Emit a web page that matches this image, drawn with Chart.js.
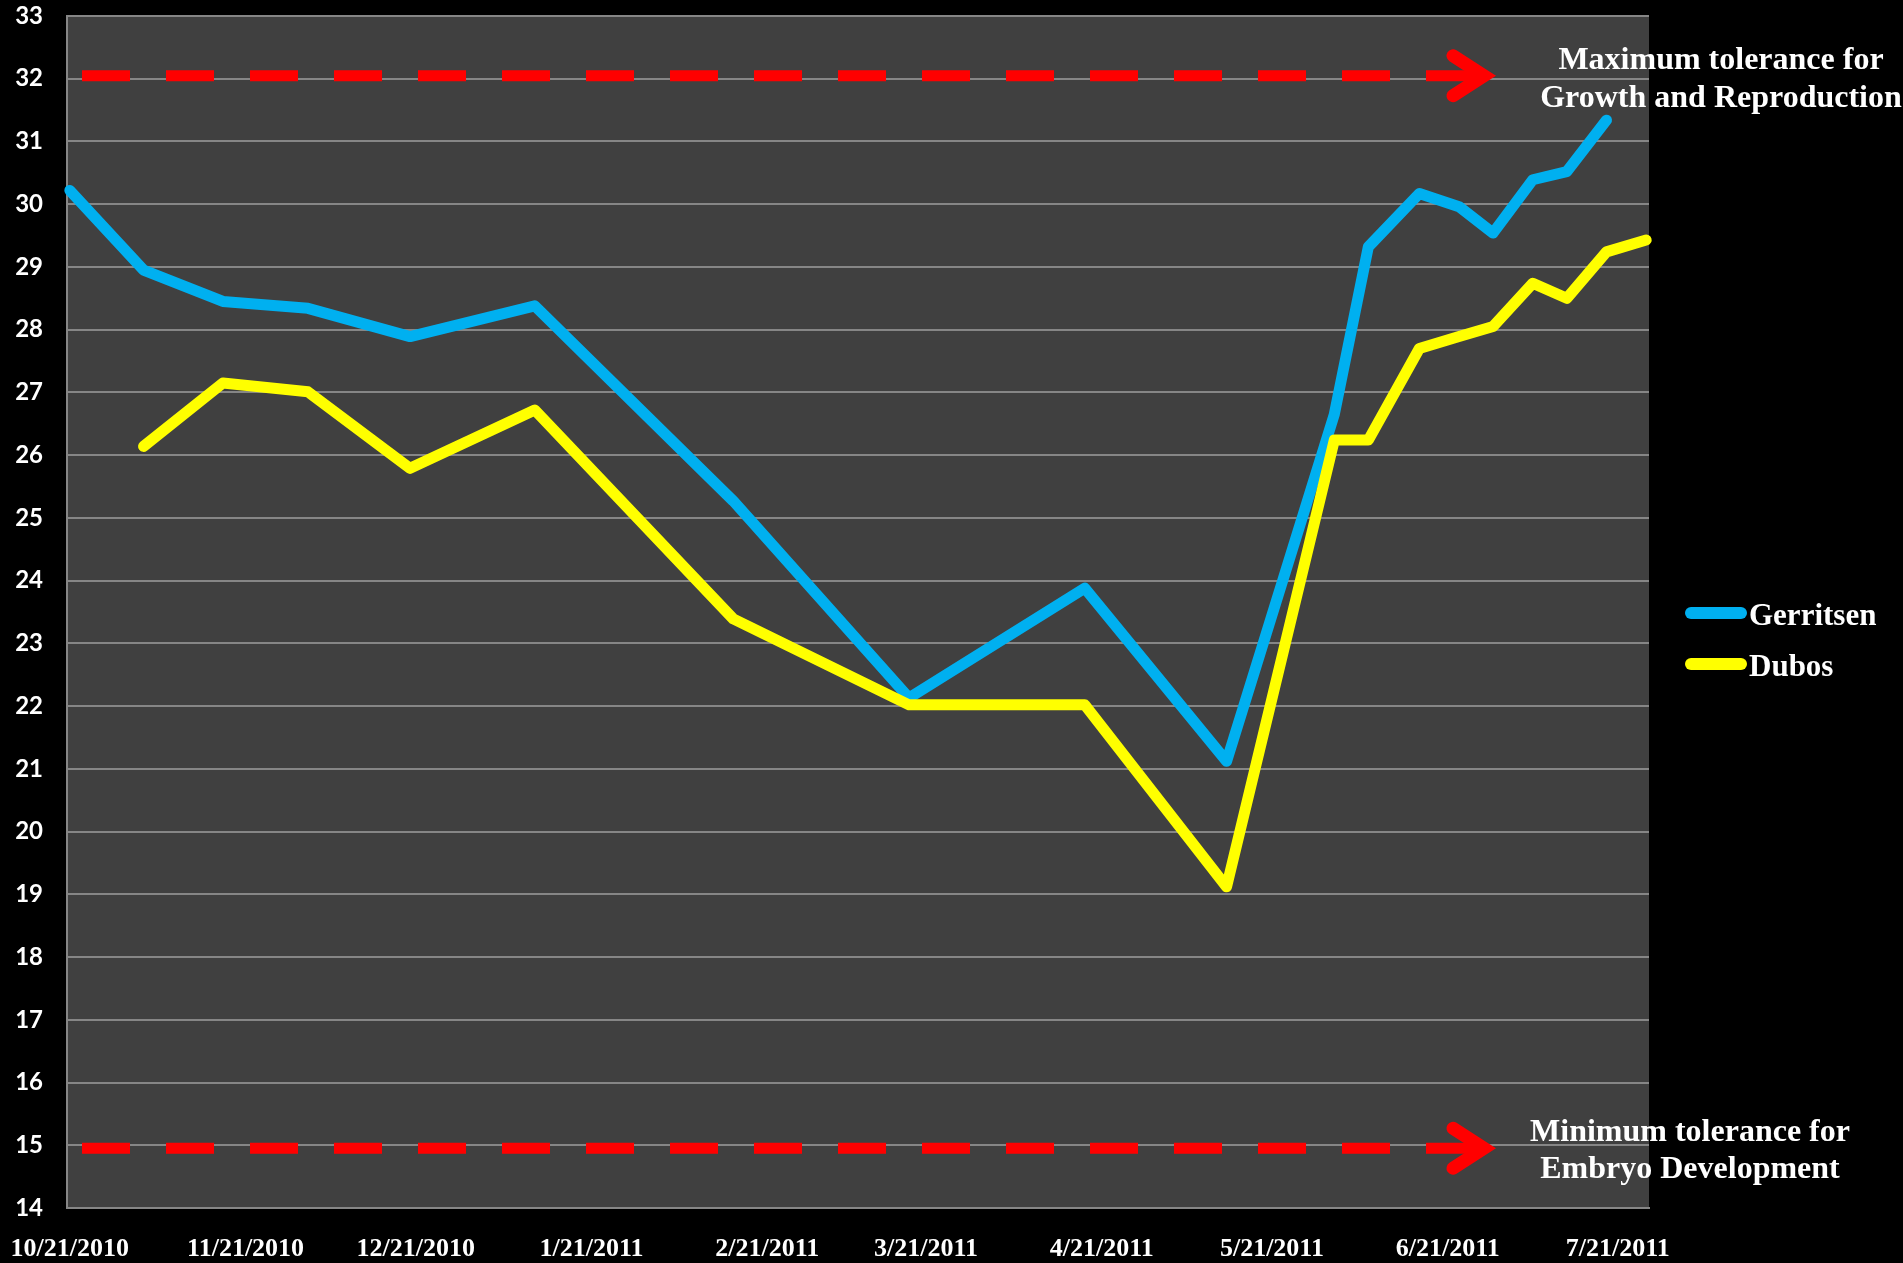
<!DOCTYPE html>
<html>
<head>
<meta charset="utf-8">
<script src="https://cdn.jsdelivr.net/npm/chart.js@4.4.1/dist/chart.umd.min.js"></script>
<style>
  html, body { margin: 0; padding: 0; background: #000; }
  #wrap { width: 1903px; height: 1263px; }
</style>
</head>
<body>
<div id="wrap"><canvas id="myChart"></canvas></div>
<script>
// sampling dates and temperatures
const dates = ['2010-10-21', '2010-11-03', '2010-11-17', '2010-12-02', '2010-12-20', '2011-01-11',
  '2011-02-15', '2011-03-18', '2011-04-18', '2011-05-13', '2011-06-01', '2011-06-07', '2011-06-16',
  '2011-06-23', '2011-06-29', '2011-07-06', '2011-07-12', '2011-07-19', '2011-07-26'];
const gerritsen = [30.22, 28.95, 28.45, 28.34, 27.89, 28.38, 25.27, 22.13, 23.88, 21.12, 26.65,
  29.32, 30.17, 29.96, 29.54, 30.39, 30.52, 31.34, null];
const dubos = [null, 26.14, 27.15, 27.01, 25.79, 26.72, 23.39, 22.02, 22.02, 19.12, 26.24,
  26.24, 27.70, 27.89, 28.05, 28.74, 28.50, 29.24, 29.43];

// x axis labels
const tickDates = ['2010-10-21', '2010-11-21', '2010-12-21', '2011-01-21', '2011-02-21',
  '2011-03-21', '2011-04-21', '2011-05-21', '2011-06-21', '2011-07-21'];

const yMin = 14;
const yMax = 33;
const maxTolerance = 32;
const minTolerance = 15;
const maxText = ['Maximum tolerance for', 'Growth and Reproduction'];
const minText = ['Minimum tolerance for', 'Embryo Development'];

const start = Date.parse(dates[0]);
function toDay(d) {
  return (Date.parse(d) - start) / 86400000;
}
function dayLabel(v) {
  const d = new Date(start + v * 86400000);
  return (d.getUTCMonth() + 1) + '/' + d.getUTCDate() + '/' + d.getUTCFullYear();
}
function toPoints(values) {
  return dates.map((d, i) => ({ x: toDay(d), y: values[i] }));
}
function noPad(scale) {
  scale.paddingTop = 0;
  scale.paddingBottom = 0;
  scale.paddingLeft = 0;
  scale.paddingRight = 0;
}

const serif = '"Liberation Serif", "Times New Roman", serif';

// gray plot area
const plotBg = {
  id: 'plotBg',
  beforeDraw(chart) {
    const { ctx, chartArea: a } = chart;
    ctx.save();
    ctx.fillStyle = '#404040';
    ctx.fillRect(a.left, a.top, a.right - a.left, a.bottom - a.top);
    ctx.restore();
  }
};

function toleranceArrow(ctx, a, y) {
  ctx.strokeStyle = '#FF0000';
  ctx.lineWidth = 11;
  ctx.lineCap = 'butt';
  ctx.setLineDash([48, 36]);
  ctx.beginPath();
  ctx.moveTo(a.left + 15, y);
  ctx.lineTo(a.left + 1359, y);
  ctx.stroke();
  ctx.setLineDash([]);
  ctx.beginPath();
  ctx.moveTo(a.left + 1359, y);
  ctx.lineTo(a.left + 1414, y);
  ctx.stroke();
  ctx.lineWidth = 13;
  ctx.lineCap = 'round';
  ctx.lineJoin = 'miter';
  ctx.beginPath();
  ctx.moveTo(a.left + 1386, y - 20);
  ctx.lineTo(a.left + 1417, y);
  ctx.lineTo(a.left + 1386, y + 20);
  ctx.stroke();
}

const extras = {
  id: 'extras',
  afterDraw(chart) {
    const { ctx, chartArea: a } = chart;
    const yScale = chart.scales.y;
    const yHi = yScale.getPixelForValue(maxTolerance);
    const yLo = yScale.getPixelForValue(minTolerance);
    ctx.save();
    toleranceArrow(ctx, a, yHi - 3);
    toleranceArrow(ctx, a, yLo + 3);

    ctx.fillStyle = '#FFFFFF';
    ctx.font = 'bold 32px ' + serif;
    ctx.textAlign = 'center';
    ctx.textBaseline = 'alphabetic';
    ctx.fillText(maxText[0], a.right + 72, yHi - 10);
    ctx.fillText(maxText[1], a.right + 72, yHi + 28);
    ctx.fillText(minText[0], a.right + 41, yLo - 4);
    ctx.fillText(minText[1], a.right + 41, yLo + 33);

    // legend
    const mid = (a.top + a.bottom) / 2;
    ctx.textAlign = 'left';
    ctx.font = 'bold 31px ' + serif;
    chart.data.datasets.forEach(function(ds, i) {
      const y = mid + 1 + i * 51;
      ctx.strokeStyle = ds.borderColor;
      ctx.lineWidth = 12;
      ctx.lineCap = 'round';
      ctx.beginPath();
      ctx.moveTo(a.right + 42, y);
      ctx.lineTo(a.right + 92, y);
      ctx.stroke();
      ctx.fillStyle = '#FFFFFF';
      ctx.fillText(ds.label, a.right + 100, y + 12);
    });
    ctx.restore();
  }
};

const ctx = document.getElementById('myChart');
new Chart(ctx, {
  type: 'line',
  data: {
    datasets: [{
      label: 'Gerritsen',
      data: toPoints(gerritsen),
      borderColor: '#00B0F0',
      order: 2
    }, {
      label: 'Dubos',
      data: toPoints(dubos),
      borderColor: '#FFFF00',
      order: 1
    }]
  },
  options: {
    responsive: true,
    maintainAspectRatio: false,
    animation: false,
    layout: { autoPadding: false, padding: { top: 16, right: 254, left: 0, bottom: 0 } },
    elements: {
      line: { borderWidth: 11, tension: 0, borderJoinStyle: 'round', borderCapStyle: 'round' },
      point: { radius: 0, hoverRadius: 0 }
    },
    datasets: { line: { clip: false, spanGaps: false } },
    plugins: {
      legend: { display: false },
      tooltip: { enabled: false }
    },
    scales: {
      x: {
        type: 'linear',
        min: -0.5,
        max: toDay(dates[dates.length - 1]) + 0.5,
        afterBuildTicks(scale) {
          scale.ticks = tickDates.map(d => ({ value: toDay(d) }));
        },
        afterFit(scale) {
          scale.height = 55;
          noPad(scale);
        },
        grid: { display: false, drawTicks: false },
        border: { color: '#868686', width: 2 },
        ticks: {
          color: '#FFFFFF',
          font: { family: serif, size: 26, weight: 'bold' },
          padding: 26,
          maxRotation: 0,
          autoSkip: false,
          callback: v => dayLabel(v)
        }
      },
      y: {
        min: yMin,
        max: yMax,
        afterFit(scale) {
          scale.width = 67;
          noPad(scale);
        },
        grid: { color: '#868686', lineWidth: 2, drawTicks: false },
        border: { color: '#868686', width: 2 },
        ticks: {
          stepSize: 1,
          color: '#FFFFFF',
          font: { family: 'Lato', size: 24, weight: 'bold' },
          padding: 24
        }
      }
    }
  },
  plugins: [plotBg, extras]
});
</script>
</body>
</html>
